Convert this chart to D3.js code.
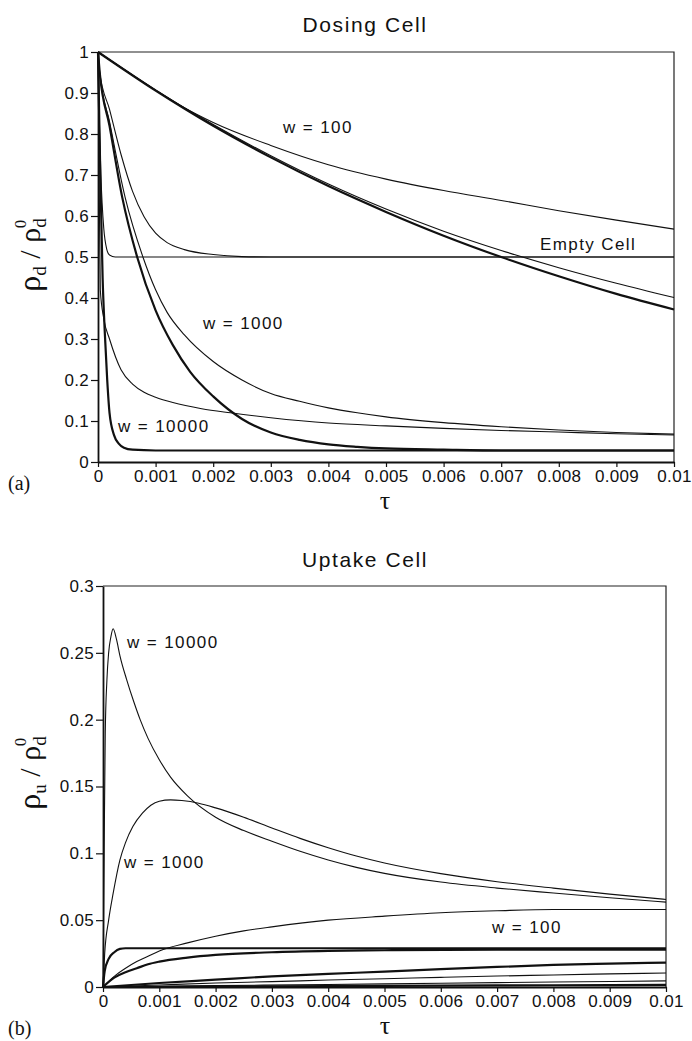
<!DOCTYPE html>
<html>
<head>
<meta charset="utf-8">
<script src="https://cdn.jsdelivr.net/npm/d3@7"></script>
<style>
  html, body { margin: 0; background: #fff; }
  svg { display: block; }
</style>
</head>
<body>
<svg id="fig" width="692" height="1041"></svg>
<script>
// ---- axis ticks ----
const tauTicks = [0, 0.001, 0.002, 0.003, 0.004, 0.005, 0.006, 0.007, 0.008, 0.009, 0.01];
const tauTickLabels = ["0", "0.001", "0.002", "0.003", "0.004", "0.005", "0.006", "0.007", "0.008", "0.009", "0.01"];
const dosingTicks = [0, 0.1, 0.2, 0.3, 0.4, 0.5, 0.6, 0.7, 0.8, 0.9, 1];
const dosingTickLabels = ["0", "0.1", "0.2", "0.3", "0.4", "0.5", "0.6", "0.7", "0.8", "0.9", "1"];
const uptakeTicks = [0, 0.05, 0.1, 0.15, 0.2, 0.25, 0.3];
const uptakeTickLabels = ["0", "0.05", "0.1", "0.15", "0.2", "0.25", "0.3"];

// ---- (a) dosing cell, rho_d / rho_d0 ----
const dosW100UpperTau = [0, 0.0005, 0.001, 0.0015, 0.002, 0.003, 0.004, 0.005, 0.006, 0.007, 0.008, 0.009, 0.01];
const dosW100Upper    = [1, 0.953, 0.907, 0.864, 0.828, 0.772, 0.725, 0.69, 0.662, 0.638, 0.613, 0.59, 0.568];
const dosW100Tau      = [0, 0.001, 0.002, 0.003, 0.004, 0.005, 0.006, 0.007, 0.008, 0.009, 0.01];
const dosW100Thick    = [1, 0.906, 0.820, 0.743, 0.673, 0.610, 0.552, 0.500, 0.453, 0.410, 0.372];
const dosW100Thin     = [1, 0.907, 0.823, 0.747, 0.678, 0.617, 0.563, 0.516, 0.474, 0.436, 0.401];
const dosW1000EmptyTau = [0, 0.00003, 0.0002, 0.0004, 0.0006, 0.0008, 0.001, 0.0012, 0.0015, 0.002, 0.0025, 0.003, 0.01];
const dosW1000Empty    = [1, 0.95, 0.86, 0.75, 0.66, 0.598, 0.558, 0.535, 0.518, 0.506, 0.501, 0.5, 0.5];
const dosW1000ThickTau = [0, 0.00003, 0.0002, 0.00042, 0.00068, 0.001, 0.0013, 0.0016, 0.002, 0.0025, 0.003, 0.0035, 0.004, 0.0045, 0.005, 0.006, 0.007, 0.01];
const dosW1000Thick    = [1, 0.95, 0.82, 0.646, 0.5, 0.37, 0.285, 0.22, 0.16, 0.105, 0.072, 0.054, 0.043, 0.037, 0.033, 0.03, 0.028, 0.028];
const dosW1000ThinTau  = [0, 0.00003, 0.0002, 0.00047, 0.00078, 0.001, 0.0012, 0.0015, 0.002, 0.0025, 0.003, 0.0035, 0.004, 0.0045, 0.005, 0.006, 0.007, 0.008, 0.009, 0.01];
const dosW1000Thin     = [1, 0.95, 0.83, 0.646, 0.5, 0.42, 0.365, 0.31, 0.245, 0.2, 0.167, 0.148, 0.132, 0.12, 0.11, 0.096, 0.086, 0.078, 0.072, 0.068];
const dosW10000EmptyTau = [0, 0.00002, 0.00005, 0.0001, 0.00015, 0.0002, 0.0003, 0.01];
const dosW10000Empty    = [1, 0.85, 0.7, 0.57, 0.52, 0.505, 0.5, 0.5];
const dosW10000ThickTau = [0, 0.00004, 0.00008, 0.00012, 0.00016, 0.0002, 0.00028, 0.00036, 0.00045, 0.0006, 0.001, 0.01];
const dosW10000Thick    = [1, 0.7, 0.45, 0.31, 0.2, 0.12, 0.065, 0.045, 0.035, 0.03, 0.028, 0.028];
const dosW10000ThinTau  = [0, 0.00002, 0.00004, 0.0001, 0.0002, 0.0004, 0.0006, 0.0008, 0.001, 0.0013, 0.0018, 0.0023, 0.003, 0.004, 0.005, 0.006, 0.007, 0.008, 0.009, 0.01];
const dosW10000Thin     = [1, 0.7, 0.42, 0.35, 0.3, 0.225, 0.19, 0.17, 0.158, 0.145, 0.13, 0.12, 0.108, 0.095, 0.088, 0.082, 0.077, 0.073, 0.069, 0.066];

// ---- (b) uptake cell, rho_u / rho_d0 ----
const upW10000Tau = [0, 0.00002, 0.00004, 0.00007, 0.0001, 0.00014, 0.00018, 0.00024, 0.0003, 0.00042, 0.00055, 0.00066, 0.0008, 0.001, 0.0012, 0.0015, 0.002, 0.0025, 0.003, 0.0035, 0.004, 0.0045, 0.005, 0.006, 0.007, 0.008, 0.009, 0.01];
const upW10000    = [0, 0.1, 0.19, 0.23, 0.25, 0.262, 0.268, 0.26, 0.248, 0.23, 0.213, 0.2, 0.186, 0.17, 0.157, 0.143, 0.127, 0.117, 0.109, 0.1015, 0.095, 0.0895, 0.085, 0.0785, 0.074, 0.0703, 0.0668, 0.0635];
const upW1000Tau  = [0, 0.00003, 0.0001, 0.00018, 0.0003, 0.0004, 0.00053, 0.0007, 0.00085, 0.001, 0.0012, 0.0014, 0.0017, 0.002, 0.0025, 0.003, 0.0035, 0.004, 0.0045, 0.005, 0.006, 0.007, 0.008, 0.009, 0.01];
const upW1000     = [0, 0.025, 0.05, 0.07, 0.095, 0.108, 0.12, 0.13, 0.136, 0.139, 0.14, 0.1395, 0.1375, 0.134, 0.127, 0.119, 0.1112, 0.1042, 0.098, 0.0928, 0.0848, 0.0788, 0.074, 0.0695, 0.0655];
const upW100Tau   = [0, 0.0002, 0.0004, 0.0006, 0.0008, 0.001, 0.0015, 0.002, 0.0025, 0.003, 0.004, 0.005, 0.006, 0.007, 0.008, 0.01];
const upW100      = [0, 0.008, 0.014, 0.019, 0.023, 0.027, 0.033, 0.038, 0.042, 0.045, 0.05, 0.053, 0.0555, 0.057, 0.058, 0.058];
const upFlatTau   = [0, 0.00003, 0.0001, 0.0002, 0.0003, 0.0004, 0.01];
const upFlat      = [0, 0.012, 0.021, 0.026, 0.0285, 0.029, 0.029];
const upRiseTau   = [0, 0.0002, 0.0004, 0.0006, 0.0008, 0.001, 0.0015, 0.002, 0.003, 0.004, 0.005, 0.007, 0.01];
const upRise      = [0, 0.007, 0.011, 0.014, 0.017, 0.019, 0.022, 0.024, 0.026, 0.027, 0.0275, 0.028, 0.028];
const upLowTau    = [0, 0.001, 0.002, 0.003, 0.004, 0.005, 0.006, 0.007, 0.008, 0.009, 0.01];
const upLowA      = [0, 0.003, 0.0055, 0.008, 0.0098, 0.0115, 0.0133, 0.015, 0.0165, 0.0175, 0.0183];
const upLowB      = [0, 0.0015, 0.003, 0.004, 0.0052, 0.0062, 0.0072, 0.0082, 0.009, 0.0098, 0.0105];
const upLowestTau = [0, 0.002, 0.004, 0.006, 0.008, 0.01];
const upLowC      = [0, 0.001, 0.0019, 0.0028, 0.0037, 0.0046];
const upLowD      = [0, 0.0004, 0.0007, 0.001, 0.0013, 0.0016];

const THIN = 1.1, THICK = 2.2;

const panels = [
  {
    title: "Dosing Cell", tag: "(a)", yLabelSub: "d",
    left: 98, right: 674, top: 52, bottom: 462,
    yMax: 1, yTicks: dosingTicks, yLabels: dosingTickLabels,
    titleY: 32, tauY: 509, tagY: 490, yTitleY: 255,
    curves: [
      { tau: dosW100UpperTau, v: dosW100Upper, w: THIN },
      { tau: dosW100Tau, v: dosW100Thin, w: THIN },
      { tau: dosW100Tau, v: dosW100Thick, w: THICK },
      { tau: dosW1000EmptyTau, v: dosW1000Empty, w: THIN },
      { tau: dosW1000ThinTau, v: dosW1000Thin, w: THIN },
      { tau: dosW1000ThickTau, v: dosW1000Thick, w: THICK },
      { tau: dosW10000EmptyTau, v: dosW10000Empty, w: THIN },
      { tau: dosW10000ThinTau, v: dosW10000Thin, w: THIN },
      { tau: dosW10000ThickTau, v: dosW10000Thick, w: THICK }
    ],
    notes: [
      { text: "w = 100", x: 283, y: 133 },
      { text: "Empty Cell", x: 540, y: 250 },
      { text: "w = 1000", x: 203, y: 329 },
      { text: "w = 10000", x: 118, y: 432 }
    ]
  },
  {
    title: "Uptake Cell", tag: "(b)", yLabelSub: "u",
    left: 103, right: 666, top: 586, bottom: 987,
    yMax: 0.3, yTicks: uptakeTicks, yLabels: uptakeTickLabels,
    titleY: 567, tauY: 1034, tagY: 1035, yTitleY: 773,
    curves: [
      { tau: upW10000Tau, v: upW10000, w: THIN },
      { tau: upW1000Tau, v: upW1000, w: THIN },
      { tau: upW100Tau, v: upW100, w: THIN },
      { tau: upFlatTau, v: upFlat, w: THICK },
      { tau: upRiseTau, v: upRise, w: THICK },
      { tau: upLowTau, v: upLowA, w: THICK },
      { tau: upLowTau, v: upLowB, w: THIN },
      { tau: upLowestTau, v: upLowC, w: THIN },
      { tau: upLowestTau, v: upLowD, w: THICK }
    ],
    notes: [
      { text: "w = 10000", x: 127, y: 648 },
      { text: "w = 1000", x: 124, y: 868 },
      { text: "w = 100", x: 492, y: 933 }
    ]
  }
];

const svg = d3.select("#fig");
const SANS = "'Liberation Sans', Arial, Helvetica, sans-serif";
const SERIF = "'Liberation Serif', 'Times New Roman', serif";
const INK = "#111";

panels.forEach(p => {
  const x = d3.scaleLinear().domain([0, 0.01]).range([p.left, p.right]);
  const y = d3.scaleLinear().domain([0, p.yMax]).range([p.bottom, p.top]);
  const g = svg.append("g");

  // frame: top and right edges
  g.append("path")
    .attr("d", `M${p.left},${p.top}H${p.right}V${p.bottom}`)
    .attr("fill", "none").attr("stroke", "#222").attr("stroke-width", 1.2);

  // curves
  const line = d3.line()
    .x((d) => x(d[0])).y((d) => y(d[1]))
    .curve(d3.curveMonotoneX);
  p.curves.forEach(c => {
    const pts = c.tau.map((t, i) => [t, c.v[i]]);
    g.append("path").datum(pts)
      .attr("d", line)
      .attr("fill", "none")
      .attr("stroke", INK)
      .attr("stroke-width", c.w)
      .attr("stroke-linejoin", "round");
  });

  // axes
  const xAxis = d3.axisBottom(x).tickValues(tauTicks)
    .tickFormat((d, i) => tauTickLabels[i])
    .tickSize(5).tickSizeOuter(0).tickPadding(3);
  const yAxis = d3.axisLeft(y).tickValues(p.yTicks)
    .tickFormat((d, i) => p.yLabels[i])
    .tickSize(7).tickSizeOuter(0).tickPadding(2);

  const gx = g.append("g").attr("transform", `translate(0,${p.bottom})`).call(xAxis);
  const gy = g.append("g").attr("transform", `translate(${p.left},0)`).call(yAxis);
  [gx, gy].forEach(a => {
    a.select(".domain").attr("stroke", INK).attr("stroke-width", 1.8);
    a.selectAll(".tick line").attr("stroke", INK).attr("stroke-width", 1.2);
    a.selectAll(".tick text")
      .attr("fill", INK)
      .style("font-family", SANS)
      .style("font-size", "17px")
      .style("letter-spacing", "0.3px");
  });

  // title
  g.append("text")
    .attr("x", 365).attr("y", p.titleY)
    .attr("text-anchor", "middle")
    .style("font-family", SANS).style("font-size", "21px")
    .style("letter-spacing", "1.6px")
    .attr("fill", INK)
    .text(p.title);

  // curve annotations
  p.notes.forEach(n => {
    g.append("text")
      .attr("x", n.x).attr("y", n.y)
      .style("font-family", SANS).style("font-size", "17px")
      .style("letter-spacing", "1.4px")
      .attr("fill", INK)
      .text(n.text);
  });

  // x axis title
  g.append("text")
    .attr("x", 385).attr("y", p.tauY)
    .attr("text-anchor", "middle")
    .style("font-family", SERIF).style("font-size", "26px")
    .attr("fill", INK)
    .text("τ");

  // panel tag
  g.append("text")
    .attr("x", 8).attr("y", p.tagY)
    .style("font-family", SERIF).style("font-size", "20px")
    .attr("fill", INK)
    .text(p.tag);

  // y axis title: rho_sub / rho_d^0
  const yt = g.append("text")
    .attr("transform", `translate(40,${p.yTitleY}) rotate(-90)`)
    .attr("text-anchor", "middle")
    .style("font-family", SERIF)
    .attr("fill", INK);
  yt.append("tspan").style("font-size", "32px").text("ρ");
  yt.append("tspan").style("font-size", "19px").attr("dy", 6).text(p.yLabelSub);
  yt.append("tspan").style("font-size", "30px").attr("dy", -6).text(" / ρ");
  yt.append("tspan").style("font-size", "19px").attr("dy", 6).text("d");
  yt.append("tspan").style("font-size", "17px").attr("dx", -10).attr("dy", -20).text("0");
});
</script>
</body>
</html>
